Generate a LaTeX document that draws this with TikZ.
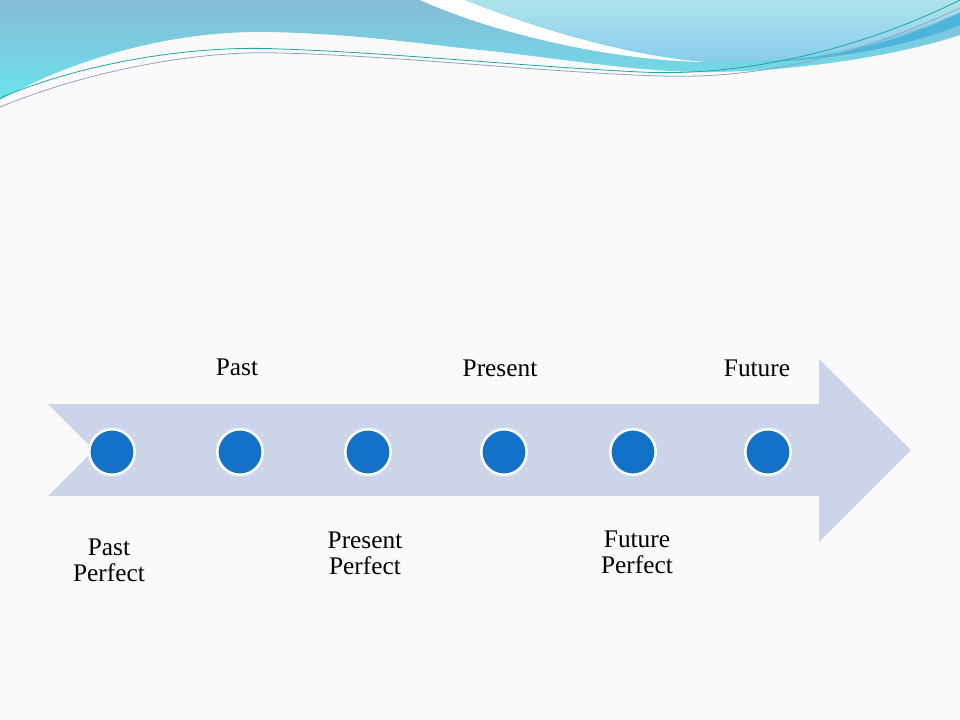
\documentclass[tikz,border=0pt]{standalone}
\usepackage{fontspec}
\setmainfont{Liberation Serif}
\usepackage{xcolor}
\definecolor{fond}{HTML}{FAFAFA}
\definecolor{lavande}{HTML}{CCD4EA}
\definecolor{bleu}{HTML}{1370C7}
\definecolor{ciel}{HTML}{86BAD5}
\definecolor{cyan1}{HTML}{6AE4EE}
\definecolor{glace}{HTML}{ADE3EA}
\definecolor{azur}{HTML}{8ACBEE}
\definecolor{fonce}{HTML}{4DB5DC}
\definecolor{sarcelle}{HTML}{1DA6A2}
\definecolor{gris}{HTML}{8FA3BC}

\begin{document}
\begin{tikzpicture}[x=0.75pt,y=-0.75pt,
    point/.style={circle,fill=bleu,draw=white,line width=1.9pt,minimum size=34.1pt,inner sep=0pt},
    etiquette/.style={font=\fontsize{19}{19.5}\selectfont,align=center,inner sep=0pt,text=black}]

        % Fond de la diapositive
        \useasboundingbox (0,0) rectangle (960,720);
        \fill[fond] (0,0) rectangle (960,720);

        % Vagues du haut
        \shade[top color=ciel,bottom color=cyan1] (0,0) -- (0,100) .. controls (80,55) and (180,30) .. (270,32) .. controls (360,34) and (430,45) .. (480,50) .. controls (560,58) and (640,73) .. (713,72) .. controls (800,71) and (900,55) .. (960,35) -- (960,0) -- cycle;
        \fill[white] (420,0) .. controls (500,36) and (620,61) .. (705,62) .. controls (630,56) and (540,30) .. (465,0) -- cycle;
        \shade[top color=glace,bottom color=azur] (465,0) .. controls (540,30) and (640,60) .. (730,61) .. controls (820,62) and (900,38) .. (960,12) -- (960,0) -- cycle;
        \fill[fonce] (760,62) .. controls (850,58) and (920,32) .. (960,13) -- (960,25) .. controls (910,45) and (840,60) .. (760,62) -- cycle;
        \draw[sarcelle,line width=0.6pt] (0,98) .. controls (90,60) and (200,45) .. (280,49) .. controls (380,52) and (520,66) .. (640,72) .. controls (760,78) and (880,40) .. (960,0);
        \draw[gris,line width=0.6pt] (0,107) .. controls (90,70) and (200,50) .. (280,53) .. controls (400,56) and (540,72) .. (660,76) .. controls (780,80) and (880,45) .. (960,8);

        % Définir les coordonnées de la flèche
        \coordinate (A) at (48,404);
        \coordinate (N) at (94,450);
        \coordinate (B) at (48,496);
        \coordinate (C) at (819,496);
        \coordinate (D) at (819,542);
        \coordinate (T) at (911,450);
        \coordinate (E) at (819,359);
        \coordinate (F) at (819,404);

        % Dessiner la flèche
        \fill[lavande] (A) -- (N) -- (B) -- (C) -- (D) -- (T) -- (E) -- (F) -- cycle;

        % Placer les points de la frise
        \node[point] (P1) at (112,452) {};
        \node[point] (P2) at (240,452) {};
        \node[point] (P3) at (368,452) {};
        \node[point] (P4) at (504,452) {};
        \node[point] (P5) at (633,452) {};
        \node[point] (P6) at (768,452) {};

        % Ajouter les temps au-dessus et au-dessous
        \node[etiquette,anchor=base] (past) at (237,375) {Past};
        \node[etiquette,anchor=base] (present) at (500,376) {Present};
        \node[etiquette,anchor=base] (future) at (757,376) {Future};
        \node[etiquette,anchor=north] (pastperf) at (109,539) {Past\\Perfect};
        \node[etiquette,anchor=north] (presperf) at (365,532) {Present\\Perfect};
        \node[etiquette,anchor=north] (futperf) at (637,531) {Future\\Perfect};
    \end{tikzpicture}
\end{document}
